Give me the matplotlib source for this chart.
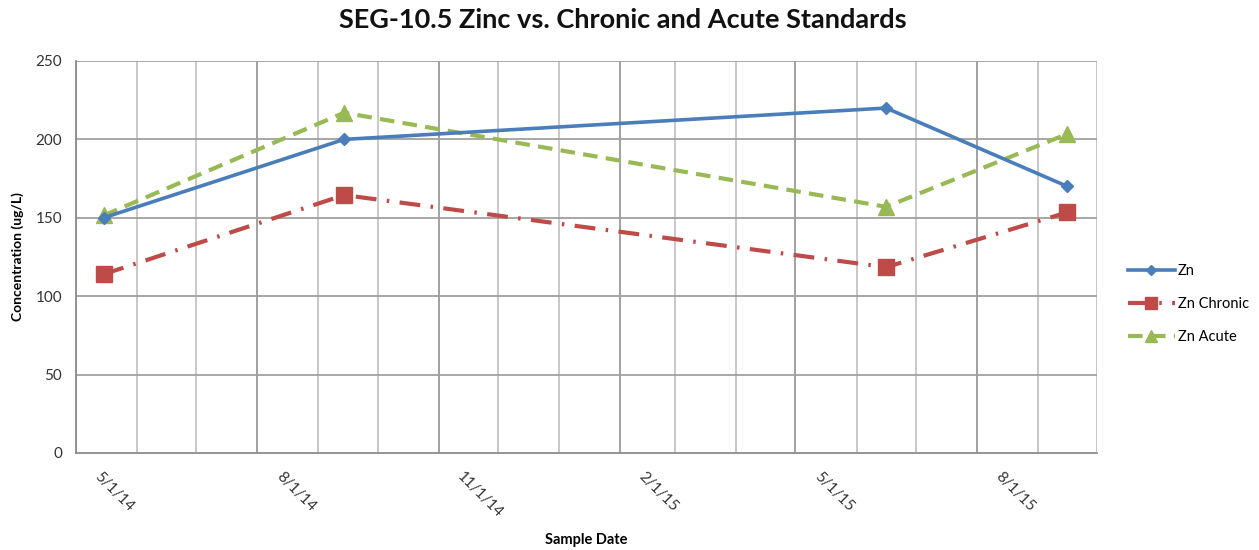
import matplotlib
matplotlib.use("Agg")
import matplotlib.pyplot as plt
import pandas as pd

dates = ["2014-05-15", "2014-09-14", "2015-06-16", "2015-09-16"]
zn = [150, 200, 220, 170]
zn_chronic = [114, 164.5, 118.5, 153.5]
zn_acute = [151.5, 217, 157, 203.5]
tick_labels = ["5/1/14", "8/1/14", "11/1/14", "2/1/15", "5/1/15", "8/1/15"]
tick_dates = ["2014-05-01", "2014-08-01", "2014-11-01", "2015-02-01", "2015-05-01", "2015-08-01"]

plt.rcParams['font.family'] = ['Lato', 'DejaVu Sans']

x = pd.to_datetime(dates)
fig = plt.figure(figsize=(12.59, 5.5), dpi=100)
ax = fig.add_axes([76/1259, 97/550, (1097-76)/1259, (453-61)/550])

xmin = pd.Timestamp("2014-05-01")
xmax = pd.Timestamp("2015-10-01")
ax.set_xlim(xmin, xmax)
ax.set_ylim(0, 250)

# grid
months = pd.date_range(xmin, xmax, freq="MS")
major = pd.to_datetime(tick_dates)
for m in months:
    if m in major:
        ax.axvline(m, color="#9a9a9a", lw=1.3, zorder=0)
    else:
        ax.axvline(m, color="#c4c4c4", lw=1.3, zorder=0)
for yv in range(50, 251, 50):
    ax.axhline(yv, color="#a0a0a0", lw=1.3, zorder=0)

ax.plot(x, zn, color="#4a7ebb", lw=2.6, marker="D", ms=6.5, label="Zn", zorder=3)
ax.plot(x, zn_chronic, color="#be4b48", lw=3, marker="s", ms=11,
        dashes=(5, 2.5, 0.6, 2.5), label="Zn Chronic", zorder=2)
ax.plot(x, zn_acute, color="#98b954", lw=3, marker="^", ms=11,
        dashes=(3.5, 2), label="Zn Acute", zorder=2)

for s in ["left", "bottom"]:
    ax.spines[s].set_color("#8c8c8c")
    ax.spines[s].set_linewidth(1.3)
for s in ["top", "right"]:
    ax.spines[s].set_visible(False)

ax.set_xticks(major)
ax.set_xticklabels(tick_labels)
ax.set_yticks(range(0, 251, 50))
ax.tick_params(axis="both", length=0, labelsize=11, labelcolor="#333333")
ax.tick_params(axis="y", pad=10)
for lab in ax.get_xticklabels():
    lab.set_rotation(-45)
    lab.set_ha("left")
    lab.set_va("top")
    lab.set_rotation_mode("anchor")
    lab.set_transform(lab.get_transform() + matplotlib.transforms.ScaledTranslation(26/100, -12/100, fig.dpi_scale_trans))

ax.set_ylabel("Concentration (ug/L)", fontsize=10, fontweight="bold", labelpad=8)
fig.text(586/1259, 1 - 540/550, "Sample Date", ha="center", va="center",
         fontsize=10.5, fontweight="bold")
fig.text(623/1259, 1 - 20/550, "SEG-10.5 Zinc vs. Chronic and Acute Standards", ha="center", va="center",
         fontsize=19.5, fontweight="bold", color="#111111")

leg = fig.legend(loc="center left", bbox_to_anchor=(1115/1259, 1 - 304/550), frameon=False,
                 fontsize=10.5, handlelength=3.2, labelspacing=1.3, handletextpad=0.2,
                 markerscale=0.8)

fig.savefig("out.png", dpi=100)
